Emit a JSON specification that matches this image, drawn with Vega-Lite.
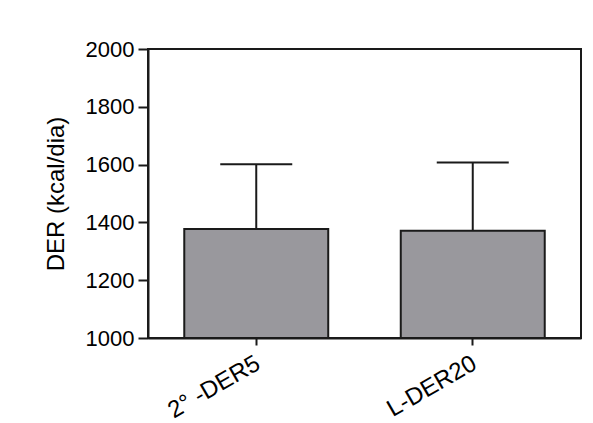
{
  "$schema": "https://vega.github.io/schema/vega-lite/v6.json",
  "autosize": {"type": "none"},
  "width": 433,
  "height": 289,
  "padding": {"left": 148, "top": 49, "right": 12, "bottom": 85},
  "background": "white",
  "config": {
    "view": {"stroke": "#1a1a1a", "strokeWidth": 2}
  },
  "data": {"values": [
    {"group": "2° -DER5", "mean": 1377, "upper": 1601},
    {"group": "L-DER20", "mean": 1371, "upper": 1607}
  ]},
  "encoding": {
    "x": {"field": "group", "type": "nominal", "sort": null, "title": null,
      "scale": {"paddingInner": 0.335, "paddingOuter": 0.1675},
      "axis": {"domainColor": "#1a1a1a", "domainWidth": 2, "tickColor": "#1a1a1a", "tickWidth": 2, "tickSize": 7,
        "labelAngle": -30, "labelPadding": 6, "labelOffset": -4, "labelColor": "black", "labelFont": "Liberation Sans", "labelFontSize": 24}}
  },
  "layer": [
    {"mark": {"type": "rule", "stroke": "#1a1a1a", "strokeWidth": 2},
     "encoding": {"y": {"field": "mean", "type": "quantitative", "title": "DER (kcal/dia)", "scale": {"domain": [1000, 2000], "zero": false, "nice": false},
       "axis": {"values": [1000, 1200, 1400, 1600, 1800, 2000], "format": "d", "grid": false,
         "domainColor": "#1a1a1a", "domainWidth": 2, "tickColor": "#1a1a1a", "tickWidth": 2, "tickSize": 10,
         "labelPadding": 4, "labelColor": "black", "labelFont": "Liberation Sans", "labelFontSize": 22,
         "titlePadding": 17, "titleFont": "Liberation Sans", "titleFontSize": 24, "titleFontWeight": "normal", "titleColor": "black"}},
      "y2": {"field": "upper"}}},
    {"mark": {"type": "tick", "size": 72, "thickness": 2, "color": "#1a1a1a", "opacity": 1},
     "encoding": {"y": {"field": "upper", "type": "quantitative"}}},
    {"mark": {"type": "bar", "fill": "#99989d", "stroke": "#1a1a1a", "strokeWidth": 2},
     "encoding": {"y": {"field": "mean", "type": "quantitative"}, "y2": {"datum": 1000}}}
  ]
}
